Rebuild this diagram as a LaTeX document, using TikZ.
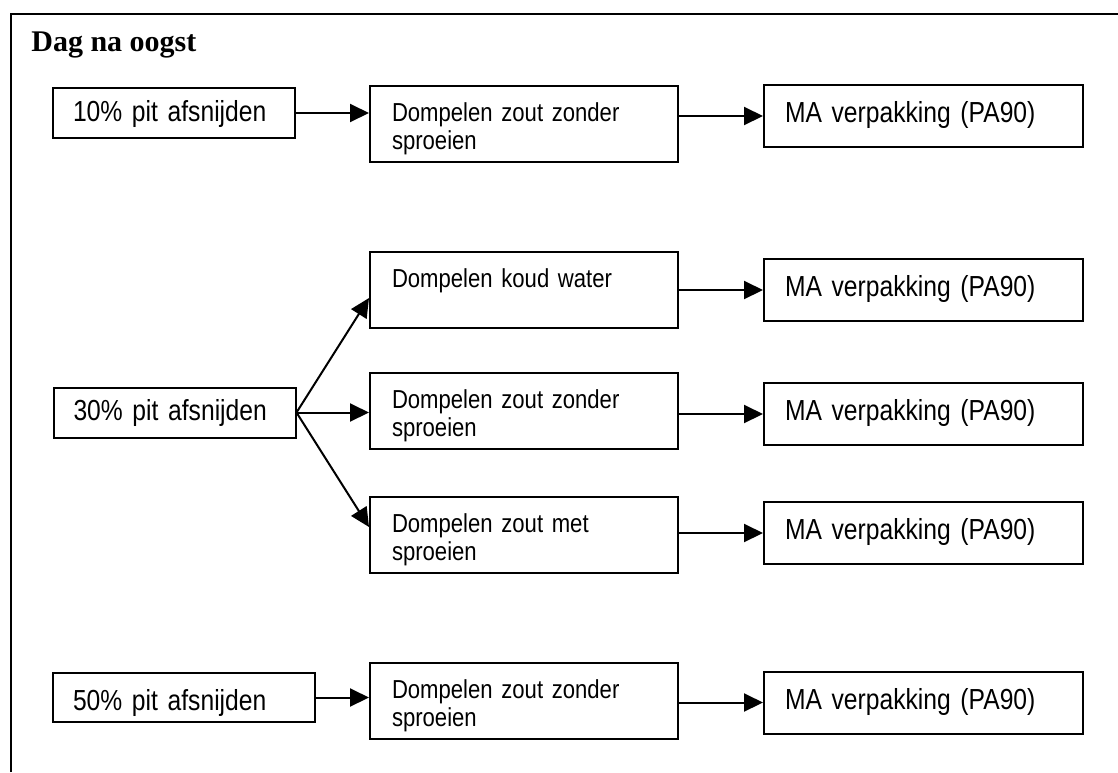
\documentclass[tikz,border=0pt]{standalone}
\usepackage{fontspec}
\setmainfont{Liberation Serif}
\newfontfamily\boxfont[FakeStretch=0.85,WordSpace=0.85]{Liberation Sans}
\usetikzlibrary{arrows.meta}

\tikzstyle{cutbox}=[
    draw=black,
    line width=1pt,
    text width=101pt,
    inner xsep=10pt,
    inner ysep=0pt,
    align=left,
    text height=16.5pt,
    text depth=8.5pt,
    font=\boxfont\fontsize{14.5pt}{17pt}\selectfont
]
\tikzstyle{dipbox}=[
    draw=black,
    line width=1pt,
    text width=132pt,
    inner xsep=11pt,
    inner ysep=0pt,
    align=left,
    text height=17.5pt,
    text depth=20.5pt,
    font=\boxfont\fontsize{13pt}{14pt}\selectfont
]
\tikzstyle{packbox}=[
    draw=black,
    line width=1pt,
    text width=138.5pt,
    inner xsep=10.5pt,
    inner ysep=0pt,
    align=left,
    text height=18.75pt,
    text depth=12.25pt,
    font=\boxfont\fontsize{14.5pt}{16pt}\selectfont
]

\begin{document}
\begin{tikzpicture}[x=0.5pt,y=-0.5pt,>={Triangle[length=9.5pt,width=9pt]}]
	\useasboundingbox (0,0) rectangle (1118,772);
	% frame and title
	\draw[line width=1pt] (11,772) -- (11,14) -- (1118,14);
	\node (title) [anchor=base west,inner sep=0pt,
		font=\bfseries\fontsize{15pt}{18pt}\selectfont] at (31,51) {Dag na oogst};

	% 10% ROW
	\node (cut10) [cutbox] at (174,113) {10\% pit afsnijden};
	\node (dip1) [dipbox] at (524,124) {Dompelen zout zonder\\sproeien};
	\node (pack1) [packbox] at (923.5,116) {MA verpakking (PA90)};

	% 30% ROW
	\node (cut30) [cutbox] at (174.5,412.5) {30\% pit afsnijden};
	\node (dipcold) [dipbox] at (524,290) {Dompelen koud water};
	\node (dipnospray) [dipbox] at (524,411) {Dompelen zout zonder\\sproeien};
	\node (dipspray) [dipbox] at (524,535) {Dompelen zout met\\sproeien};
	\node (pack2) [packbox] at (923.5,290) {MA verpakking (PA90)};
	\node (pack3) [packbox] at (923.5,414) {MA verpakking (PA90)};
	\node (pack4) [packbox] at (923.5,533) {MA verpakking (PA90)};

	% 50% ROW
	\node (cut50) [cutbox,text width=111pt,text height=18.5pt,text depth=6pt]
		at (184,697.5) {50\% pit afsnijden};
	\node (dip3) [dipbox] at (524,701) {Dompelen zout zonder\\sproeien};
	\node (pack5) [packbox] at (923.5,702.5) {MA verpakking (PA90)};

	\path[->,line width=1pt]
	% from cutting to dipping
	(cut10.east) edge (cut10.east -| dip1.west)
	(cut30.east) edge ([yshift=-4pt]dipcold.west)
	(cut30.east) edge (cut30.east -| dipnospray.west)
	(cut30.east) edge ([yshift=4pt]dipspray.west)
	(cut50.east) edge (cut50.east -| dip3.west)

	% from dipping to packing
	(pack1.west -| dip1.east) edge (pack1.west)
	(pack2.west -| dipcold.east) edge (pack2.west)
	(pack3.west -| dipnospray.east) edge (pack3.west)
	(pack4.west -| dipspray.east) edge (pack4.west)
	(pack5.west -| dip3.east) edge (pack5.west)
	;
\end{tikzpicture}
\end{document}
